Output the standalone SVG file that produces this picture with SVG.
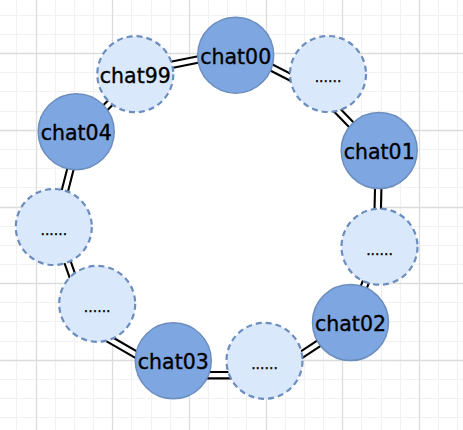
<svg xmlns="http://www.w3.org/2000/svg" width="463" height="430" viewBox="0 0 463 430">
<style>
.minor{stroke:#f1f1f1;stroke-width:1.2;fill:none}
.major{stroke:#dcdcdc;stroke-width:1.3;fill:none}
.lnk-o{stroke:#000;stroke-width:8.5;fill:none}
.lnk-i{stroke:#fff;stroke-width:4.3;fill:none}
.solid{fill:#7EA6E0;stroke:#6C8EBF;stroke-width:1.5}
.dash{fill:#DAE8FC;stroke:#6C8EBF;stroke-width:2.2;stroke-dasharray:6 4}
.lbl{font-family:"DejaVu Sans",sans-serif;font-size:20.5px;fill:#000;stroke:#000;stroke-width:0.35;text-anchor:middle}
.dots{font-family:"DejaVu Sans",sans-serif;font-size:14px;fill:#000;stroke:#000;stroke-width:0.3;text-anchor:middle}
</style>
<rect width="463" height="430" fill="#fff"/>
<g id="grid">
<path class="minor" d="M16.5 0V430M55.5 0V430M74.5 0V430M93.5 0V430M131.5 0V430M151.5 0V430M170.5 0V430M208.5 0V430M227.5 0V430M246.5 0V430M285.5 0V430M304.5 0V430M323.5 0V430M361.5 0V430M381.5 0V430M400.5 0V430M438.5 0V430M457.5 0V430M0 15.5H463M0 34.5H463M0 72.5H463M0 91.5H463M0 111.5H463M0 149.5H463M0 168.5H463M0 187.5H463M0 226.5H463M0 245.5H463M0 264.5H463M0 302.5H463M0 321.5H463M0 341.5H463M0 379.5H463M0 398.5H463M0 417.5H463"/>
<path class="major" d="M36.5 0V430M112.5 0V430M189.5 0V430M266.5 0V430M342.5 0V430M419.5 0V430M0 53.5H463M0 130.5H463M0 207.5H463M0 283.5H463M0 360.5H463"/>
</g>
<circle id="ring-interior" cx="222" cy="218" r="157" fill="#fff"/>
<g id="connectors">
<path class="lnk-o" d="M150 69.1L215 56.1M255 59.1L305 84.7M330 102.7L360 133.8M378.5 175L377.5 220M369.3 272.8L360.7 295.2M290 362.2L330 336M195 375.2L245 375.2M100 333.8L150 362.6M64 252L76 286M73 159L61 206M97 116L121 92"/>
<path class="lnk-i" d="M150 69.1L215 56.1M255 59.1L305 84.7M330 102.7L360 133.8M378.5 175L377.5 220M369.3 272.8L360.7 295.2M290 362.2L330 336M195 375.2L245 375.2M100 333.8L150 362.6M64 252L76 286M73 159L61 206M97 116L121 92"/>
</g>
<g id="chat00"><circle class="solid" cx="235.7" cy="55.2" r="38"/><text class="lbl" x="235.7" y="63.7">chat00</text></g>
<g id="dots-top-right"><circle class="dash" cx="328" cy="74" r="38"/><text class="dots" x="328" y="82">......</text></g>
<g id="chat01"><circle class="solid" cx="379.2" cy="150.5" r="38"/><text class="lbl" x="379.2" y="159">chat01</text></g>
<g id="dots-right"><circle class="dash" cx="379.5" cy="246.7" r="38"/><text class="dots" x="379.5" y="254.7">......</text></g>
<g id="chat02"><circle class="solid" cx="350.5" cy="322.5" r="38"/><text class="lbl" x="350.5" y="331">chat02</text></g>
<g id="dots-bottom"><circle class="dash" cx="264.5" cy="360.8" r="38"/><text class="dots" x="264.5" y="368.8">......</text></g>
<g id="chat03"><circle class="solid" cx="173.3" cy="360.8" r="38"/><text class="lbl" x="173.3" y="369.3">chat03</text></g>
<g id="dots-lower-left"><circle class="dash" cx="97.2" cy="303.8" r="38"/><text class="dots" x="97.2" y="311.8">......</text></g>
<g id="dots-left"><circle class="dash" cx="53.8" cy="227" r="38"/><text class="dots" x="53.8" y="235">......</text></g>
<g id="chat04"><circle class="solid" cx="76.2" cy="131.7" r="38"/><text class="lbl" x="76.2" y="139.7">chat04</text></g>
<g id="chat99"><circle class="dash" cx="135.3" cy="74.2" r="38"/><text class="lbl" x="135.3" y="82.7">chat99</text></g>
</svg>
